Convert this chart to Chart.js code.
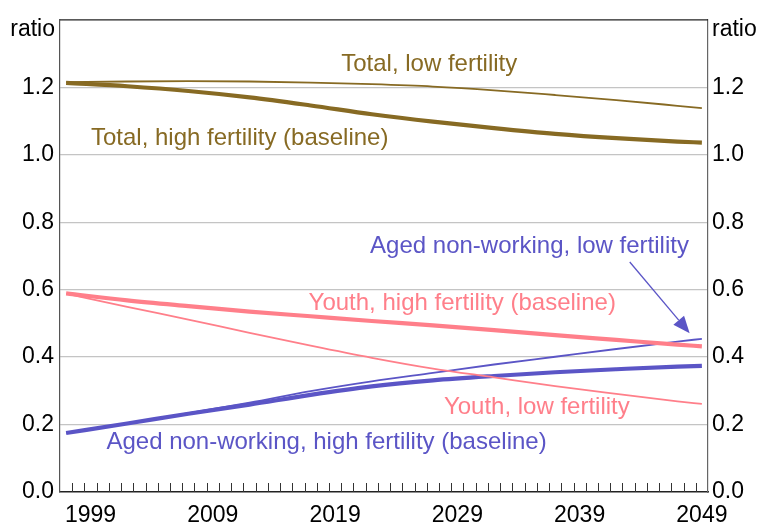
<!DOCTYPE html>
<html>
<head>
<meta charset="utf-8">
<script src="https://cdn.jsdelivr.net/npm/chart.js@4/dist/chart.umd.min.js"></script>
<style>
  html, body { margin: 0; padding: 0; background: #fff; }
</style>
</head>
<body>
<canvas id="myChart" width="760" height="527"></canvas>
<script>
// values
const years = [1997, 2002, 2007, 2012, 2017, 2022, 2027, 2032, 2037, 2042, 2047, 2049];
const totalLow  = [1.215, 1.217, 1.218, 1.217, 1.214, 1.209, 1.202, 1.191, 1.177, 1.162, 1.145, 1.138];
const totalHigh = [1.213, 1.203, 1.189, 1.170, 1.146, 1.120, 1.098, 1.079, 1.062, 1.049, 1.039, 1.036];
const youthHigh = [0.589, 0.568, 0.551, 0.535, 0.521, 0.507, 0.494, 0.480, 0.465, 0.451, 0.437, 0.432];
const youthLow  = [0.588, 0.549, 0.511, 0.472, 0.434, 0.398, 0.366, 0.340, 0.314, 0.291, 0.269, 0.261];
const agedHigh  = [0.175, 0.203, 0.232, 0.259, 0.288, 0.313, 0.331, 0.344, 0.355, 0.364, 0.372, 0.374];
const agedLow   = [0.175, 0.203, 0.234, 0.265, 0.299, 0.328, 0.353, 0.378, 0.401, 0.424, 0.446, 0.454];

const xTickLabels = [1999, 2009, 2019, 2029, 2039, 2049];
const yTickValues = [0, 0.2, 0.4, 0.6, 0.8, 1.0, 1.2, 1.4];

const BROWN = "#876a23";
const PINK = "#ff7f8a";
const BLUE = "#5b55c6";
const FONT = "'Liberation Sans', Arial, sans-serif";

const toPts = (arr) => arr.map((v, i) => ({ x: years[i], y: v }));

const line = (label, arr, color, width) => ({
  label: label,
  data: toPts(arr),
  borderColor: color,
  borderWidth: width,
  pointRadius: 0,
  fill: false,
  cubicInterpolationMode: "monotone",
  borderCapStyle: "butt",
});

// text labels placed in data units
const notes = [
  { text: "Total, low fertility", x: 2026.7, y: 1.268, color: BROWN },
  { text: "Total, high fertility (baseline)", x: 2011.2, y: 1.049, color: BROWN },
  { text: "Aged non-working, low fertility", x: 2034.9, y: 0.728, color: BLUE },
  { text: "Youth, high fertility (baseline)", x: 2029.4, y: 0.559, color: PINK },
  { text: "Youth, low fertility", x: 2035.5, y: 0.251, color: PINK },
  { text: "Aged non-working, high fertility (baseline)", x: 2018.3, y: 0.148, color: BLUE },
];
const arrowFrom = [2043.1, 0.682];
const arrowTo = [2048.0, 0.471];

const extras = {
  id: "extras",
  afterDatasetsDraw(chart) {
    const ctx = chart.ctx;
    const a = chart.chartArea;
    const xs = chart.scales.x;
    const ys = chart.scales.y;
    ctx.save();
    // top border
    ctx.strokeStyle = "#222";
    ctx.lineWidth = 1.2;
    ctx.beginPath();
    ctx.moveTo(a.left, a.top);
    ctx.lineTo(a.right, a.top);
    ctx.stroke();
    // yearly tick marks, pointing inward
    ctx.strokeStyle = "#333";
    ctx.lineWidth = 1;
    for (let v = Math.ceil(xs.min); v < xs.max; v++) {
      const px = Math.round(xs.getPixelForValue(v - 0.5)) + 0.5;
      if (px <= a.left + 1) continue;
      ctx.beginPath();
      ctx.moveTo(px, a.bottom);
      ctx.lineTo(px, a.bottom - 9);
      ctx.stroke();
    }
    // "ratio" unit labels
    ctx.fillStyle = "#000";
    ctx.font = "23px " + FONT;
    ctx.textBaseline = "middle";
    ctx.textAlign = "right";
    ctx.fillText("ratio", a.left - 5, a.top + 10);
    ctx.textAlign = "left";
    ctx.fillText("ratio", a.right + 4, a.top + 10);
    // annotations
    ctx.font = "24px " + FONT;
    ctx.textAlign = "center";
    notes.forEach((n) => {
      ctx.fillStyle = n.color;
      ctx.fillText(n.text, xs.getPixelForValue(n.x), ys.getPixelForValue(n.y));
    });
    // arrow
    const x1 = xs.getPixelForValue(arrowFrom[0]), y1 = ys.getPixelForValue(arrowFrom[1]);
    const x2 = xs.getPixelForValue(arrowTo[0]), y2 = ys.getPixelForValue(arrowTo[1]);
    const ang = Math.atan2(y2 - y1, x2 - x1);
    const hl = 17, hw = 7;
    const bx = x2 - hl * Math.cos(ang), by = y2 - hl * Math.sin(ang);
    ctx.strokeStyle = BLUE;
    ctx.fillStyle = BLUE;
    ctx.lineWidth = 1.3;
    ctx.beginPath();
    ctx.moveTo(x1, y1);
    ctx.lineTo(bx, by);
    ctx.stroke();
    ctx.beginPath();
    ctx.moveTo(x2, y2);
    ctx.lineTo(bx + hw * Math.sin(ang), by - hw * Math.cos(ang));
    ctx.lineTo(bx - hw * Math.sin(ang), by + hw * Math.cos(ang));
    ctx.closePath();
    ctx.fill();
    ctx.restore();
  },
};

const yTickSetup = (axis) => {
  axis.ticks = yTickValues.map((v) => ({ value: v }));
};
const yLabel = (v) => (v > 1.3 ? "" : Number(v).toFixed(1));

new Chart(document.getElementById("myChart").getContext("2d"), {
  type: "line",
  data: {
    datasets: [
      line("Total, low fertility", totalLow, BROWN, 1.8),
      line("Total, high fertility (baseline)", totalHigh, BROWN, 4.2),
      line("Youth, low fertility", youthLow, PINK, 1.8),
      line("Youth, high fertility (baseline)", youthHigh, PINK, 4.2),
      line("Aged non-working, low fertility", agedLow, BLUE, 1.8),
      line("Aged non-working, high fertility (baseline)", agedHigh, BLUE, 4.2),
    ],
  },
  options: {
    responsive: false,
    animation: false,
    devicePixelRatio: 1,
    layout: { padding: { top: 15, left: 0, right: 0, bottom: 0 } },
    plugins: { legend: { display: false }, tooltip: { enabled: false } },
    scales: {
      x: {
        type: "linear",
        min: 1996.5,
        max: 2049.5,
        afterBuildTicks: (axis) => {
          axis.ticks = xTickLabels.map((v) => ({ value: v }));
        },
        afterFit: (axis) => { axis.height = 35; },
        grid: { display: false, drawTicks: false },
        border: { display: true, color: "#222", width: 1.5 },
        ticks: {
          autoSkip: false,
          maxRotation: 0,
          padding: 10,
          color: "#000",
          font: { size: 23, family: FONT },
          callback: (v) => String(v),
        },
      },
      y: {
        position: "left",
        min: 0,
        max: 1.4,
        afterBuildTicks: yTickSetup,
        afterFit: (axis) => { axis.width = 60; },
        grid: {
          drawTicks: false,
          color: (c) => (c.tick.value > 0.01 && c.tick.value < 1.39 ? "#c4c4c4" : "rgba(0,0,0,0)"),
          lineWidth: 1.2,
        },
        border: { display: true, color: "#555", width: 1.2 },
        ticks: {
          padding: 6,
          color: "#000",
          font: { size: 23, family: FONT },
          callback: yLabel,
        },
      },
      y2: {
        position: "right",
        min: 0,
        max: 1.4,
        afterBuildTicks: yTickSetup,
        afterFit: (axis) => { axis.width = 52; },
        grid: { display: false, drawTicks: false },
        border: { display: true, color: "#666", width: 1.2 },
        ticks: {
          padding: 4,
          color: "#000",
          font: { size: 23, family: FONT },
          callback: yLabel,
        },
      },
    },
  },
  plugins: [extras],
});
</script>
</body>
</html>
